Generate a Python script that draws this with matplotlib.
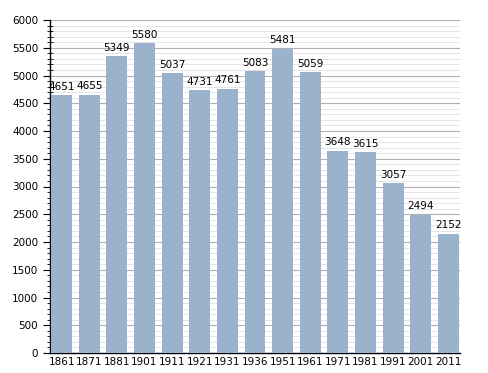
import matplotlib.pyplot as plt
from matplotlib.ticker import MultipleLocator

years = ["1861", "1871", "1881", "1901", "1911", "1921", "1931", "1936",
         "1951", "1961", "1971", "1981", "1991", "2001", "2011"]
population = [4651, 4655, 5349, 5580, 5037, 4731, 4761, 5083,
              5481, 5059, 3648, 3615, 3057, 2494, 2152]

fig = plt.figure(figsize=(4.88, 3.73), dpi=100)
ax = fig.add_axes([50 / 488, 20 / 373, 410 / 488, 333 / 373])

x = range(len(years))
ax.bar(x, population, width=0.76, color="#9ab2cc", zorder=3)

# value labels above each bar
for xi, v in zip(x, population):
    ax.text(xi, v + 60, str(v), ha="center", va="bottom", fontsize=7.5, zorder=4)

ax.set_xlim(-0.42, len(years) - 0.58)
ax.set_ylim(0, 6000)
ax.set_xticks(list(x))
ax.set_xticklabels(years, fontsize=7.5)
ax.yaxis.set_major_locator(MultipleLocator(500))
ax.yaxis.set_minor_locator(MultipleLocator(100))
ax.tick_params(axis="y", labelsize=7.5, length=5, width=0.8)
ax.tick_params(axis="y", which="minor", direction="inout", length=5, width=0.6)
ax.tick_params(axis="x", length=0, pad=3)

ax.grid(axis="y", which="major", color="#b0b0b0", linewidth=0.8, zorder=0)
ax.grid(axis="y", which="minor", color="#e0e0e0", linewidth=0.6, zorder=0)

for s in ["top", "right"]:
    ax.spines[s].set_visible(False)
ax.spines["left"].set_linewidth(1.0)
ax.spines["bottom"].set_linewidth(1.0)

fig.savefig("out.png", dpi=100)
